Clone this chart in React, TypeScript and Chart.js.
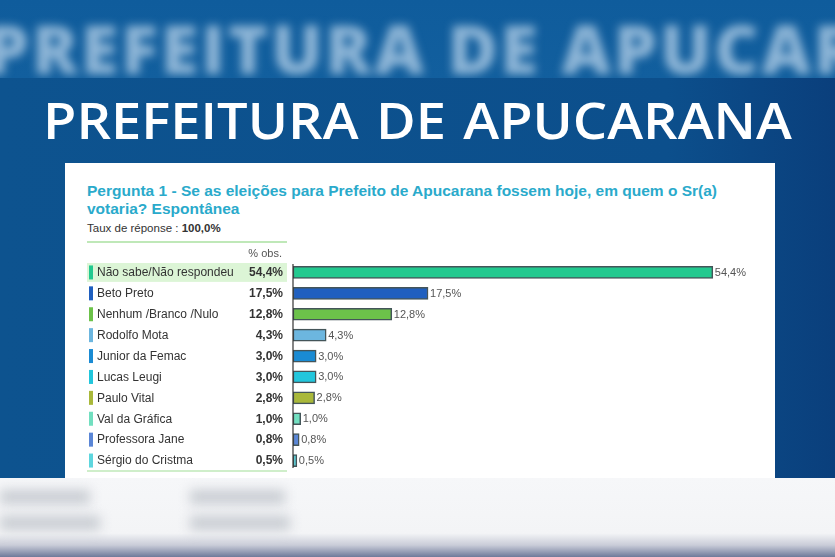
import React, { useEffect, useRef } from "react";
import { Chart, registerables } from "chart.js";

Chart.register(...registerables);

const CATEGORIES = [
  "Não sabe/Não respondeu",
  "Beto Preto",
  "Nenhum /Branco /Nulo",
  "Rodolfo Mota",
  "Junior da Femac",
  "Lucas Leugi",
  "Paulo Vital",
  "Val da Gráfica",
  "Professora Jane",
  "Sérgio do Cristma",
];
const VALUES = [54.4, 17.5, 12.8, 4.3, 3.0, 3.0, 2.8, 1.0, 0.8, 0.5];
const COLORS = [
  "#22c98f",
  "#1f5fbf",
  "#6cc24a",
  "#6cb6df",
  "#1a8bd3",
  "#22c6dc",
  "#a9b83a",
  "#72dfc0",
  "#5a86d6",
  "#5ed6de",
];
const X_MAX = 60;
const HEADER = "% obs.";

const fmt = (v: number) => v.toFixed(1).replace(".", ",") + "%";
const FONT = '"Liberation Sans", Arial, sans-serif';

const tablePlugin = {
  id: "tablePlugin",
  afterDatasetsDraw(chart: any) {
    const ctx = chart.ctx as CanvasRenderingContext2D;
    const y = chart.scales.y;
    const area = chart.chartArea;
    const tblLeft = 22;
    const tblRight = 222;
    const valRight = 218;
    ctx.save();
    ctx.font = `11px ${FONT}`;
    ctx.fillStyle = "#555";
    ctx.textAlign = "right";
    ctx.textBaseline = "middle";
    ctx.fillText(HEADER, valRight - 1, 10);
    const step = y.getPixelForValue(1) - y.getPixelForValue(0);
    CATEGORIES.forEach((c, i) => {
      const cy = y.getPixelForValue(i);
      if (i === 0) {
        ctx.fillStyle = "#dcf5d6";
        ctx.fillRect(tblLeft, cy - step / 2 + 1, tblRight - tblLeft, step - 2);
      }
      ctx.fillStyle = COLORS[i];
      ctx.fillRect(tblLeft + 2, cy - 7, 4, 14);
      ctx.font = `12px ${FONT}`;
      ctx.fillStyle = "#333";
      ctx.textAlign = "left";
      ctx.fillText(c, tblLeft + 10, cy + 0.5);
      ctx.font = `bold 12px ${FONT}`;
      ctx.fillStyle = "#333";
      ctx.textAlign = "right";
      ctx.fillText(fmt(VALUES[i]), valRight, cy + 0.5);
    });
    ctx.strokeStyle = "#bfe8b8";
    ctx.lineWidth = 1.5;
    ctx.beginPath();
    ctx.moveTo(tblLeft, area.bottom);
    ctx.lineTo(tblRight, area.bottom);
    ctx.stroke();
    ctx.strokeStyle = "#333";
    ctx.lineWidth = 1.2;
    ctx.beginPath();
    ctx.moveTo(area.left, area.top + 2);
    ctx.lineTo(area.left, area.bottom - 3);
    ctx.stroke();
    const meta = chart.getDatasetMeta(0);
    ctx.font = `11px ${FONT}`;
    ctx.fillStyle = "#555";
    ctx.textAlign = "left";
    meta.data.forEach((bar: any, i: number) => {
      ctx.fillText(fmt(VALUES[i]), bar.x + 2, bar.y + 0.5);
    });
    ctx.restore();
  },
};

function BarChart() {
  const ref = useRef<HTMLCanvasElement>(null);
  useEffect(() => {
    if (!ref.current) return;
    const chart = new Chart(ref.current, {
      type: "bar",
      data: {
        labels: CATEGORIES,
        datasets: [
          {
            data: VALUES,
            backgroundColor: COLORS,
            borderColor: "rgba(35,55,60,0.85)",
            borderWidth: 1.5,
            borderSkipped: false,
            barThickness: 12,
          },
        ],
      },
      options: {
        indexAxis: "y",
        animation: false,
        responsive: false,
        maintainAspectRatio: false,
        layout: { padding: { left: 228, right: 19, top: 18, bottom: 5 } },
        plugins: {
          legend: { display: false },
          tooltip: { enabled: false },
          title: { display: false },
        },
        scales: {
          x: { display: false, min: 0, max: X_MAX },
          y: { display: false },
        },
      },
      plugins: [tablePlugin],
    });
    return () => chart.destroy();
  }, []);
  return (
    <canvas
      ref={ref}
      width={710}
      height={232}
      style={{ position: "absolute", left: 0, top: 81, width: 710, height: 232 }}
    />
  );
}

export default function App() {
  return (
    <div
      style={{
        position: "fixed",
        left: 0,
        top: 0,
        width: 835,
        height: 557,
        overflow: "hidden",
        background: "#0c4f8c",
        fontFamily: FONT,
      }}
    >
      <div
        style={{
          position: "absolute",
          left: 0,
          top: 0,
          width: 835,
          height: 78,
          overflow: "hidden",
          background: "linear-gradient(180deg,#0f5c9c,#125f9e)",
        }}
      >
        <div
          style={{
            position: "absolute",
            left: -14,
            top: 12,
            width: 900,
            whiteSpace: "nowrap",
            fontFamily: '"Open Sans", sans-serif',
            fontWeight: 800,
            fontSize: 68,
            letterSpacing: 3,
            color: "rgba(185,212,235,0.75)",
            filter: "blur(5px)",
            lineHeight: "72px",
          }}
        >
          PREFEITURA DE APUCARANA
        </div>
      </div>
      <div
        style={{
          position: "absolute",
          left: 0,
          top: 78,
          width: 835,
          height: 400,
          background: "linear-gradient(90deg,#0d538f 0%,#0c4f8c 80%,#0a3f7c 100%)",
        }}
      />
      <div
        style={{
          position: "absolute",
          left: 0,
          top: 88,
          width: 835,
          textAlign: "center",
          color: "#fff",
          fontFamily: '"Open Sans", sans-serif',
          fontWeight: 600,
          fontSize: 50,
          wordSpacing: 3,
          lineHeight: "64px",
          whiteSpace: "nowrap",
          transform: "scaleX(1.085)",
          transformOrigin: "center",
        }}
      >
        PREFEITURA DE APUCARANA
      </div>
      <div
        style={{
          position: "absolute",
          left: 65,
          top: 163,
          width: 710,
          height: 315,
          background: "#fff",
          overflow: "hidden",
        }}
      >
        <div
          style={{
            position: "absolute",
            left: 22,
            top: 19,
            width: 685,
            color: "#2aaacb",
            fontWeight: "bold",
            fontSize: 15.5,
            lineHeight: "18px",
            whiteSpace: "nowrap",
          }}
        >
          Pergunta 1 - Se as eleições para Prefeito de Apucarana fossem hoje, em quem o Sr(a)
          <br />
          votaria? Espontânea
        </div>
        <div
          style={{
            position: "absolute",
            left: 22,
            top: 58,
            color: "#333",
            fontSize: 11.5,
            lineHeight: "14px",
            whiteSpace: "nowrap",
          }}
        >
          Taux de réponse : <b>100,0%</b>
        </div>
        <div
          style={{
            position: "absolute",
            left: 22,
            top: 78,
            width: 200,
            height: 2,
            background: "#bfe8b8",
          }}
        />
        <BarChart />
      </div>
      <div
        style={{
          position: "absolute",
          left: 0,
          top: 478,
          width: 835,
          height: 79,
          background: "linear-gradient(180deg,#f6f7f9 0%,#f3f4f6 70%,#c9ccd8 85%,#6f7a9a 100%)",
          overflow: "hidden",
        }}
      >
        {[
          [0, 12, 90, 14],
          [0, 38, 100, 14],
          [190, 12, 95, 14],
          [190, 38, 100, 14],
        ].map((r, i) => (
          <div
            key={i}
            style={{
              position: "absolute",
              left: r[0],
              top: r[1],
              width: r[2],
              height: r[3],
              background: "#c8ccd2",
              filter: "blur(6px)",
            }}
          />
        ))}
      </div>
    </div>
  );
}
